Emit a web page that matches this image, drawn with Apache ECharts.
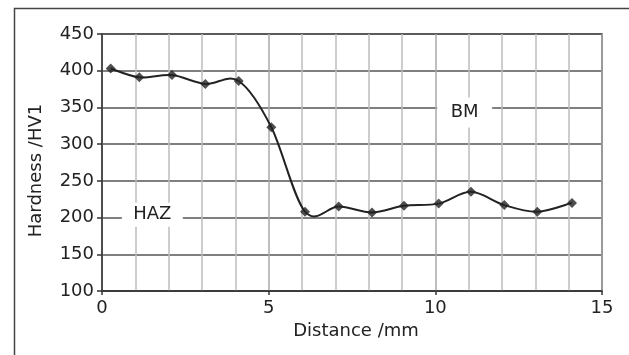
<!DOCTYPE html>
<html><head><meta charset="utf-8">
<script src="https://cdn.jsdelivr.net/npm/echarts@6/dist/echarts.min.js"></script>
<style>html,body{margin:0;padding:0;background:#fff}#c{width:629px;height:355px}</style>
</head><body><div id="c"></div>
<script>
const distance = [0.26, 1.12, 2.1, 3.1, 4.1, 5.08, 6.09, 7.1, 8.1, 9.06, 10.1, 11.07, 12.07, 13.06, 14.1];
const hardness = [403, 391, 394, 382, 386, 323, 208, 215, 207, 216, 219, 235, 217, 208, 220];
const regionLabels = ['BM', 'HAZ'];
const regionX = [10.88, 1.51];
const regionY = [343, 204];

const chart = echarts.init(document.getElementById('c'), null, {renderer: 'canvas'});
const font = 'DejaVu Sans';
const pts = distance.map((x, i) => [x, hardness[i]]);
const n = pts.length;
const tension = 1 / 6;

function renderSegment(params, api) {
  const i = params.dataIndex;
  if (i >= n - 1) return null;
  const p0 = api.coord(pts[Math.max(i - 1, 0)]);
  const p1 = api.coord(pts[i]);
  const p2 = api.coord(pts[i + 1]);
  const p3 = api.coord(pts[Math.min(i + 2, n - 1)]);
  return {
    type: 'bezierCurve',
    shape: {
      x1: p1[0], y1: p1[1], x2: p2[0], y2: p2[1],
      cpx1: p1[0] + (p2[0] - p0[0]) * tension, cpy1: p1[1] + (p2[1] - p0[1]) * tension,
      cpx2: p2[0] - (p3[0] - p1[0]) * tension, cpy2: p2[1] - (p3[1] - p1[1]) * tension
    },
    style: {stroke: '#222', lineWidth: 2, fill: 'none'}
  };
}

chart.setOption({
  animation: false,
  backgroundColor: '#fff',
  textStyle: {fontFamily: font},
  graphic: [{type: 'rect', left: 12, top: 6, shape: {width: 640, height: 400}, style: {fill: 'none', stroke: '#444', lineWidth: 1.5}, z: -10}],
  grid: {left: 102, right: 27, top: 34, bottom: 64, show: true, borderColor: '#444', borderWidth: 1.5},
  xAxis: {
    type: 'value', min: 0, max: 15, interval: 5,
    name: 'Distance /mm', nameLocation: 'middle', nameGap: 30,
    nameTextStyle: {fontSize: 18, color: '#222', fontFamily: font, padding: [0, 0, 0, 8]},
    axisLine: {show: true, lineStyle: {color: '#333', width: 1.5}},
    axisTick: {show: true, length: 4, lineStyle: {color: '#333', width: 1.5}},
    axisLabel: {fontSize: 18, color: '#222', margin: 8, fontFamily: font},
    splitLine: {show: true, lineStyle: {color: '#a8a8a8', width: 1.5}},
    minorTick: {show: false, splitNumber: 5},
    minorSplitLine: {show: true, lineStyle: {color: '#bdbdbd', width: 1.5}}
  },
  yAxis: {
    type: 'value', min: 100, max: 450, interval: 50,
    name: 'Hardness /HV1', nameLocation: 'middle', nameGap: 57,
    nameTextStyle: {fontSize: 18, color: '#222', fontFamily: font, padding: [0, 16, 0, 0]},
    axisLine: {show: true, lineStyle: {color: '#333', width: 1.5}},
    axisTick: {show: true, length: 5, lineStyle: {color: '#333', width: 1.5}},
    axisLabel: {fontSize: 18, color: '#222', margin: 8, fontFamily: font},
    splitLine: {show: true, lineStyle: {color: '#555', width: 1.5}}
  },
  series: [{
    type: 'custom',
    data: pts,
    encode: {x: 0, y: 1},
    renderItem: renderSegment,
    z: 2
  }, {
    type: 'scatter',
    data: pts,
    symbol: 'diamond', symbolSize: 10,
    itemStyle: {color: '#222'},
    z: 3,
    markPoint: {
      symbol: 'rect',
      data: regionLabels.map((t, i) => ({
        name: t, coord: [regionX[i], regionY[i]],
        symbolSize: i === 0 ? [55, 30] : [61, 24]
      })),
      itemStyle: {color: '#fff'},
      label: {show: true, formatter: '{b}', fontSize: 18, color: '#222', fontFamily: font, position: 'inside'}
    }
  }]
});
</script></body></html>
